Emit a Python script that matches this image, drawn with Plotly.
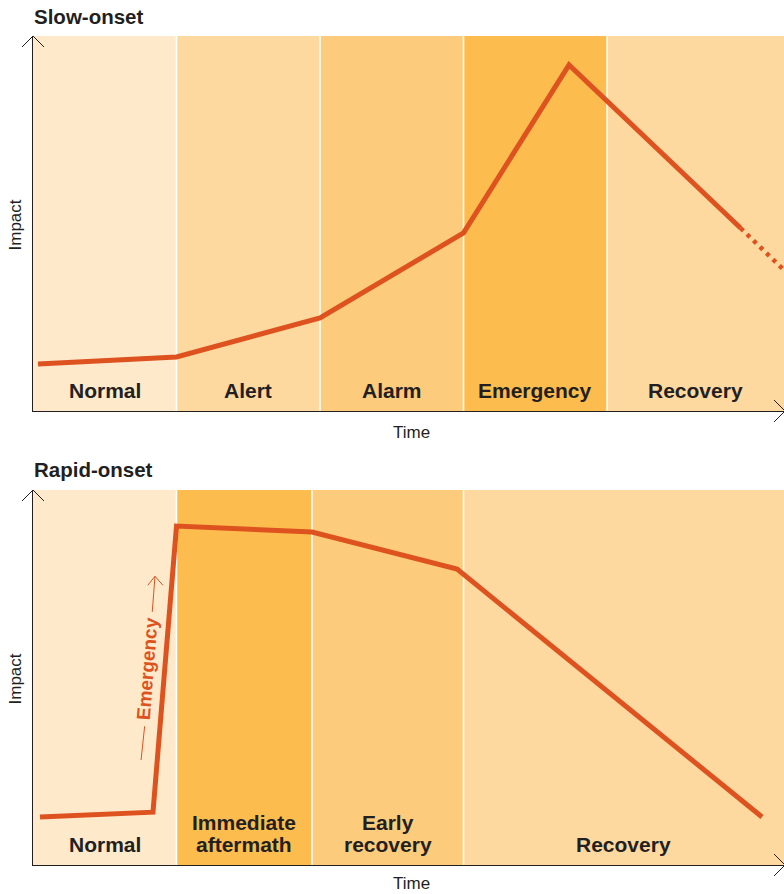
import plotly.graph_objects as go

W, H = 784, 894

# ---------------- data ----------------
# Slow-onset panel (x in phase units, y in % of axis height)
slow_phases = ["Normal", "Alert", "Alarm", "Emergency", "Recovery"]
slow_edges = [0, 1, 2, 3, 4, 5.233]
slow_colors = ["#FEEACB", "#FDD9A0", "#FCCB7B", "#FCBD4E", "#FDD9A0"]
slow_x = [0.035, 1.0, 2.0, 3.0, 3.735, 4.93]
slow_y = [12.5, 14.4, 24.8, 47.5, 92.3, 48.8]
slow_dot_x = [4.93, 5.233]
slow_dot_y = [48.8, 37.6]

# Rapid-onset panel
rapid_phases = ["Normal", "Immediate<br>aftermath", "Early<br>recovery", "Recovery"]
rapid_edges = [0, 1.0, 1.944, 3.0, 5.233]
rapid_colors = ["#FEEACB", "#FCBD4E", "#FCCB7B", "#FDD9A0"]
rapid_x = [0.049, 0.836, 1.0, 1.944, 2.955, 5.08]
rapid_y = [12.8, 14.1, 90.4, 88.8, 78.9, 12.8]

LINE = "#DE5220"
INK = "#231F20"
FONT = "Liberation Sans, Arial, sans-serif"

# pixel layout (page coordinates)
X0, X1 = 33, 784
TOP = (36, 411)
BOT = (490, 865)

fig = go.Figure()

def add_panel(xr, yr, edges, colors, phases, lx, ly, dotted=None):
    for i in range(len(phases)):
        fig.add_shape(type="rect", xref=xr, yref=yr, x0=edges[i], x1=edges[i+1],
                      y0=0, y1=100, fillcolor=colors[i], line_width=0, layer="below")
    for e in edges[1:-1]:
        fig.add_shape(type="line", xref=xr, yref=yr, x0=e, x1=e, y0=0, y1=100,
                      line=dict(color="white", width=1.5), layer="below")
    for i, p in enumerate(phases):
        lines = p.split("<br>")
        for k, ln in enumerate(reversed(lines)):
            fig.add_annotation(xref=xr, yref=yr, x=(edges[i] + edges[i+1]) / 2, y=2,
                               yshift=22 * k,
                               text="<b>%s</b>" % ln, showarrow=False, yanchor="bottom",
                               xanchor="center",
                               font=dict(family=FONT, size=21, color=INK))
    fig.add_trace(go.Scatter(x=lx, y=ly, xaxis=xr, yaxis=yr, mode="lines",
                             line=dict(color=LINE, width=5), hoverinfo="skip",
                             showlegend=False))
    if dotted:
        fig.add_trace(go.Scatter(x=dotted[0], y=dotted[1], xaxis=xr, yaxis=yr,
                                 mode="lines",
                                 line=dict(color=LINE, width=4.5, dash="4px,5px"),
                                 hoverinfo="skip", showlegend=False))

add_panel("x", "y", slow_edges, slow_colors, slow_phases, slow_x, slow_y,
          dotted=(slow_dot_x, slow_dot_y))
add_panel("x2", "y2", rapid_edges, rapid_colors, rapid_phases, rapid_x, rapid_y)

def px(x, y):
    return x / W, (H - y) / H

def dom_y(p):
    return [px(0, p[1])[1], px(0, p[0])[1]]

xdom = [px(X0, 0)[0], px(X1, 0)[0]]

axis_common = dict(showgrid=False, zeroline=False, showticklabels=False, ticks="",
                   showline=True, linecolor=INK, linewidth=1, fixedrange=True)
fig.update_layout(
    width=W, height=H, margin=dict(l=0, r=0, t=0, b=0),
    paper_bgcolor="white", plot_bgcolor="rgba(0,0,0,0)",
    font=dict(family=FONT, color=INK),
    xaxis=dict(domain=xdom, range=[0, slow_edges[-1]], anchor="y", **axis_common),
    yaxis=dict(domain=dom_y(TOP), range=[0, 100], anchor="x", **axis_common),
    xaxis2=dict(domain=xdom, range=[0, rapid_edges[-1]], anchor="y2", **axis_common),
    yaxis2=dict(domain=dom_y(BOT), range=[0, 100], anchor="x2", **axis_common),
)

# axis arrowheads (open chevrons) in paper coords
def chevron(pts):
    path = "M %f %f L %f %f L %f %f" % tuple(v for p in pts for v in px(*p))
    fig.add_shape(type="path", xref="paper", yref="paper", path=path,
                  line=dict(color=INK, width=1))

for (t, b) in (TOP, BOT):
    chevron([(22, t + 11), (33, t), (44, t + 11)])
    chevron([(774, b - 11), (785, b), (774, b + 11)])

# titles
for txt, yy in (("Slow-onset", 16), ("Rapid-onset", 470)):
    fig.add_annotation(xref="paper", yref="paper", x=px(32, yy)[0], y=px(32, yy)[1],
                       text="<b>%s</b>" % txt, showarrow=False, xanchor="left",
                       yanchor="middle", font=dict(family=FONT, size=20.5, color=INK))

# axis titles
for (t, b) in (TOP, BOT):
    cy = (t + b) / 2 + 2
    fig.add_annotation(xref="paper", yref="paper", x=px(15, cy)[0],
                       y=px(15, cy)[1], text="Impact", textangle=-90,
                       xanchor="center", yanchor="middle", borderpad=0,
                       showarrow=False, font=dict(family=FONT, size=17, color=INK))
    ty = min(b + 21, H - 11)
    fig.add_annotation(xref="paper", yref="paper", x=px(411, ty)[0],
                       y=px(411, ty)[1], text="Time", showarrow=False,
                       xanchor="center", yanchor="middle", borderpad=0,
                       font=dict(family=FONT, size=17, color=INK))

# "Emergency" rising annotation on rapid-onset panel (data coords of panel 2)
fig.add_annotation(xref="x2", yref="y2", x=0.794, y=52.5, text="<b>Emergency</b>",
                   textangle=-85.5, showarrow=False, xanchor="center", yanchor="middle",
                   font=dict(family=FONT, size=19, color=LINE))
fig.add_shape(type="line", xref="x2", yref="y2", x0=0.753, y0=28.0, x1=0.778, y1=37.0,
              line=dict(color=LINE, width=1))
fig.add_shape(type="line", xref="x2", yref="y2", x0=0.831, y0=67.5, x1=0.850, y1=77.0,
              line=dict(color=LINE, width=1))
fig.add_shape(type="path", xref="x2", yref="y2",
              path="M 0.800 74.6 L 0.850 77.0 L 0.905 74.6",
              line=dict(color=LINE, width=1))

fig.write_html("out.html", config={"displayModeBar": False},
               post_script="document.body.style.margin='0px';")
